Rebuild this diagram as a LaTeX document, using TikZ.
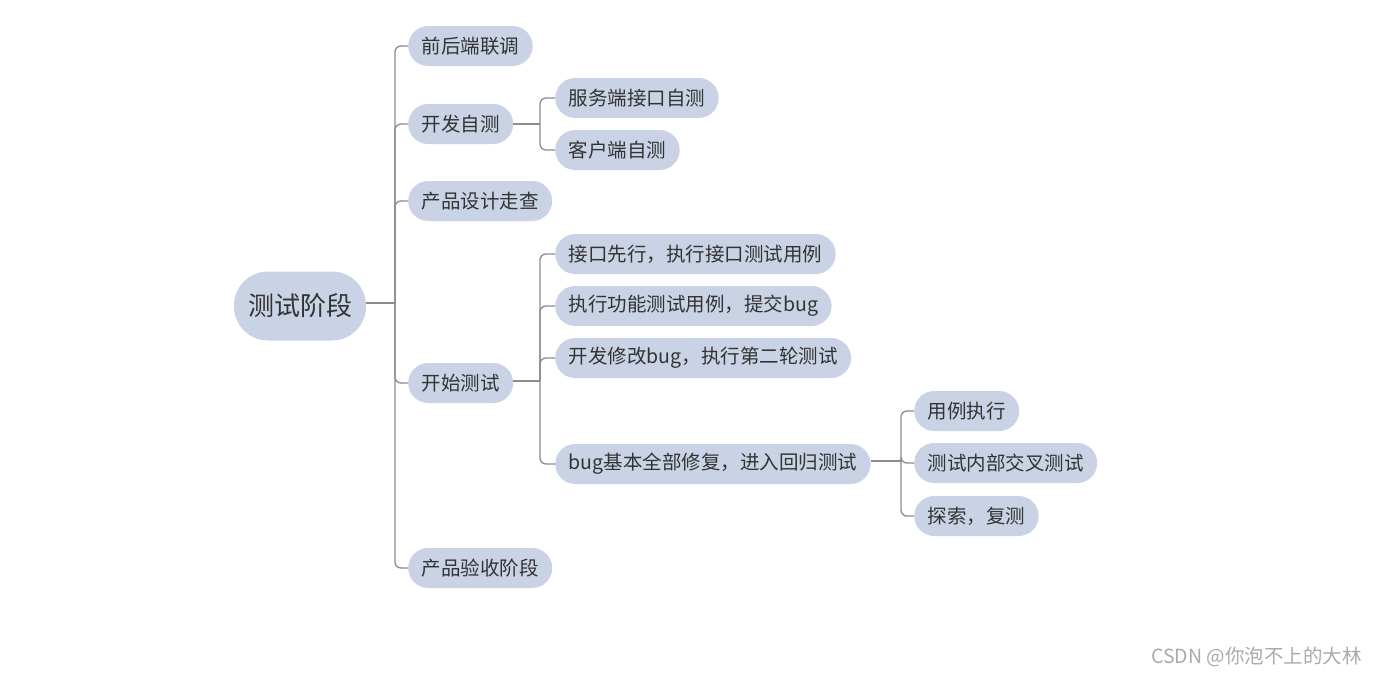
\documentclass[tikz,border=0pt]{standalone}
\usepackage{fontspec}
\setmainfont{Noto Sans CJK SC}
\definecolor{pill}{HTML}{C9D3E5}
\definecolor{txt}{HTML}{333333}
\definecolor{conn}{HTML}{8C8C8C}
\definecolor{wm}{HTML}{AAAAAA}
\begin{document}
\begin{tikzpicture}[x=1pt,y=-1pt,
  pillbox/.style={fill=pill, rounded corners=20pt, minimum height=40pt, inner xsep=13.5pt, inner ysep=0pt, anchor=west, text=txt, font=\fontsize{19.5}{21}\selectfont},
  rootbox/.style={fill=pill, rounded corners=34pt, minimum height=69pt, minimum width=132pt, inner xsep=14pt, text=txt, font=\fontsize{26}{28}\selectfont},
  link/.style={draw=conn, line width=1.3pt, rounded corners=6pt}]
\useasboundingbox (0,0) rectangle (1378,675);
\node[rootbox] (root) at (300,306) {测试阶段};
\node[pillbox] (a1) at (408,46) {前后端联调};
\node[pillbox] (a2) at (408,124) {开发自测};
\node[pillbox] (a3) at (408,201) {产品设计走查};
\node[pillbox] (a4) at (408,383) {开始测试};
\node[pillbox] (a5) at (408,568) {产品验收阶段};
\node[pillbox] (b1) at (555,98) {服务端接口自测};
\node[pillbox] (b2) at (555,150) {客户端自测};
\node[pillbox] (c1) at (555,254) {接口先行，执行接口测试用例};
\node[pillbox] (c2) at (555,306) {执行功能测试用例，提交bug};
\node[pillbox] (c3) at (555,358) {开发修改bug，执行第二轮测试};
\node[pillbox] (c4) at (555,464) {bug基本全部修复，进入回归测试};
\node[pillbox] (d1) at (914,411) {用例执行};
\node[pillbox] (d2) at (914,463) {测试内部交叉测试};
\node[pillbox] (d3) at (914,516) {探索，复测};
\coordinate (s0) at (395,303);
\coordinate (s1) at (540,124);
\coordinate (s2) at (540,381);
\coordinate (s3) at (901,461);
\draw[link] (root.east |- s0) -- (s0);
\foreach \n in {a1,a2,a3,a4,a5} \draw[link] (s0) |- (\n.west);
\draw[link] (a2.east) -- (s1);
\foreach \n in {b1,b2} \draw[link] (s1) |- (\n.west);
\draw[link] (a4.east |- s2) -- (s2);
\foreach \n in {c1,c2,c3,c4} \draw[link] (s2) |- (\n.west);
\draw[link] (c4.east |- s3) -- (s3);
\foreach \n in {d1,d2,d3} \draw[link] (s3) |- (\n.west);
\node[anchor=east, text=wm, font=\fontsize{19.5}{21}\selectfont, inner sep=0pt] (wmk) at (1362,657) {CSDN @你泡不上的大林};
\end{tikzpicture}
\end{document}
